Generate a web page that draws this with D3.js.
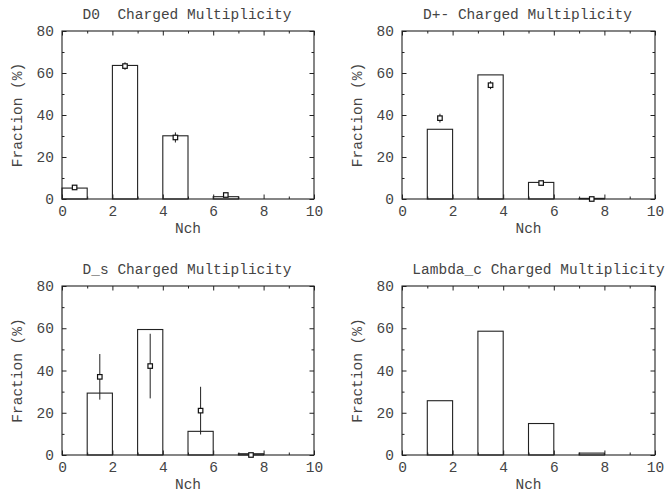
<!DOCTYPE html>
<html>
<head>
<meta charset="utf-8">
<script src="https://cdn.jsdelivr.net/npm/d3@7"></script>
<style>
  html, body { margin: 0; padding: 0; background: #fff; }
  svg { display: block; }
  text { font-family: "Liberation Mono", "DejaVu Sans Mono", monospace; fill: #444; white-space: pre; }
</style>
</head>
<body>
<svg id="chart" width="668" height="494"></svg>
<script>
// Charged multiplicity fractions (%) per charm hadron species.
// Histogram bars: bin left edges (unit-width bins in Nch) and predicted fraction.
const titles = ["D0  Charged Multiplicity", "D+- Charged Multiplicity",
                "D_s Charged Multiplicity", "Lambda_c Charged Multiplicity"];

const d0BinStart = [0, 2, 4, 6];
const d0Fraction = [5.2, 63.6, 30.1, 1.1];
const dpBinStart = [1, 3, 5, 7];
const dpFraction = [33.2, 59.1, 7.9, 0.3];
const dsBinStart = [1, 3, 5, 7];
const dsFraction = [29.3, 59.4, 11.2, 0.6];
const lcBinStart = [1, 3, 5, 7];
const lcFraction = [25.7, 58.6, 14.9, 0.9];

// Measured points: Nch bin centre, fraction and its uncertainty.
const d0PointN = [0.5, 2.5, 4.5, 6.5];
const d0PointVal = [5.5, 63.3, 29.3, 1.9];
const d0PointErr = [0.6, 1.8, 2.4, 0.6];
const dpPointN = [1.5, 3.5, 5.5, 7.5];
const dpPointVal = [38.5, 54.2, 7.6, 0.0];
const dpPointErr = [2.1, 1.9, 1.0, 0.3];
const dsPointN = [1.5, 3.5, 5.5, 7.5];
const dsPointVal = [37.0, 42.1, 21.0, 0.0];
const dsPointErr = [10.8, 15.3, 11.3, 0.5];

const xTicks = [0, 2, 4, 6, 8, 10];
const xMinorTicks = [1, 3, 5, 7, 9];
const yTicks = [0, 20, 40, 60, 80];
const yMinorTicks = [10, 30, 50, 70];

const xLabel = "Nch";
const yLabel = "Fraction (%)";

const panels = [
  { title: titles[0], bins: d0BinStart, vals: d0Fraction, pn: d0PointN, pv: d0PointVal, pe: d0PointErr,
    box: { x0: 62, x1: 314, y0: 31, y1: 199 }, titleDx: -1 },
  { title: titles[1], bins: dpBinStart, vals: dpFraction, pn: dpPointN, pv: dpPointVal, pe: dpPointErr,
    box: { x0: 402, x1: 655, y0: 31, y1: 199 }, titleDx: -1 },
  { title: titles[2], bins: dsBinStart, vals: dsFraction, pn: dsPointN, pv: dsPointVal, pe: dsPointErr,
    box: { x0: 62, x1: 314, y0: 286, y1: 455 }, titleDx: -1 },
  { title: titles[3], bins: lcBinStart, vals: lcFraction, pn: [], pv: [], pe: [],
    box: { x0: 402, x1: 655, y0: 286, y1: 455 }, titleDx: 10 }
];

const svg = d3.select("#chart");
const FONT = 14.5;
const INK = "#222";

panels.forEach(p => {
  const b = p.box;
  const x = d3.scaleLinear().domain([0, 10]).range([b.x0, b.x1]);
  const y = d3.scaleLinear().domain([0, 80]).range([b.y1, b.y0]);
  const g = svg.append("g");

  // histogram bars (open outlines)
  g.selectAll("rect.bar").data(p.bins.map((s, i) => ({ s, v: p.vals[i] })))
    .enter().append("rect").attr("class", "bar")
    .attr("x", d => x(d.s)).attr("width", d => x(d.s + 1) - x(d.s))
    .attr("y", d => y(d.v)).attr("height", d => y(0) - y(d.v))
    .attr("fill", "none").attr("stroke", INK).attr("stroke-width", 1.1);

  // axes: labelled major ticks, unlabelled minor ticks, all pointing inward
  const addAxis = (gen, tx, ty, labels) => {
    const a = g.append("g").attr("transform", `translate(${tx},${ty})`).call(gen);
    a.select(".domain").remove();
    a.selectAll("line").attr("stroke", INK);
    if (!labels) a.selectAll("text").remove();
    else a.selectAll("text").style("font-size", FONT + "px").attr("fill", "#444");
    return a;
  };
  addAxis(d3.axisBottom(x).tickValues(xTicks).tickFormat(d3.format("d")).tickSizeInner(-4.5).tickSizeOuter(0).tickPadding(6.5), 0, b.y1, true);
  addAxis(d3.axisBottom(x).tickValues(xMinorTicks).tickSizeInner(-2.5).tickSizeOuter(0), 0, b.y1, false);
  addAxis(d3.axisTop(x).tickValues(xTicks).tickSizeInner(-4.5).tickSizeOuter(0), 0, b.y0, false);
  addAxis(d3.axisTop(x).tickValues(xMinorTicks).tickSizeInner(-2.5).tickSizeOuter(0), 0, b.y0, false);
  addAxis(d3.axisLeft(y).tickValues(yTicks).tickFormat(d3.format("d")).tickSizeInner(-4.5).tickSizeOuter(0).tickPadding(8), b.x0, 0, true);
  addAxis(d3.axisLeft(y).tickValues(yMinorTicks).tickSizeInner(-2.5).tickSizeOuter(0), b.x0, 0, false);
  addAxis(d3.axisRight(y).tickValues(yTicks).tickSizeInner(-4.5).tickSizeOuter(0), b.x1, 0, false);
  addAxis(d3.axisRight(y).tickValues(yMinorTicks).tickSizeInner(-2.5).tickSizeOuter(0), b.x1, 0, false);

  // frame
  g.append("rect").attr("x", b.x0).attr("y", b.y0)
    .attr("width", b.x1 - b.x0).attr("height", b.y1 - b.y0)
    .attr("fill", "none").attr("stroke", INK).attr("stroke-width", 1.1);

  // measured points with vertical error bars
  const pts = p.pn.map((n, i) => ({ n, v: p.pv[i], e: p.pe[i] }));
  g.selectAll("line.err").data(pts).enter().append("line").attr("class", "err")
    .attr("x1", d => x(d.n)).attr("x2", d => x(d.n))
    .attr("y1", d => y(Math.max(0, d.v - d.e))).attr("y2", d => y(d.v + d.e))
    .attr("stroke", INK).attr("stroke-width", 1);
  const s = 4.5;
  g.selectAll("rect.pt").data(pts).enter().append("rect").attr("class", "pt")
    .attr("x", d => x(d.n) - s / 2).attr("y", d => y(d.v) - s / 2)
    .attr("width", s).attr("height", s)
    .attr("fill", "#fff").attr("stroke", "#111").attr("stroke-width", 1.2);

  // titles and axis labels
  g.append("text").attr("x", (b.x0 + b.x1) / 2 + p.titleDx).attr("y", b.y0 - 12)
    .attr("xml:space", "preserve")
    .attr("text-anchor", "middle").style("font-size", FONT + "px").text(p.title);
  g.append("text").attr("x", (b.x0 + b.x1) / 2).attr("y", b.y1 + 34)
    .attr("text-anchor", "middle").style("font-size", FONT + "px").text(xLabel);
  g.append("text")
    .attr("transform", `translate(${b.x0 - 40},${(b.y0 + b.y1) / 2}) rotate(-90)`)
    .attr("text-anchor", "middle").style("font-size", FONT + "px").text(yLabel);
});
</script>
</body>
</html>
